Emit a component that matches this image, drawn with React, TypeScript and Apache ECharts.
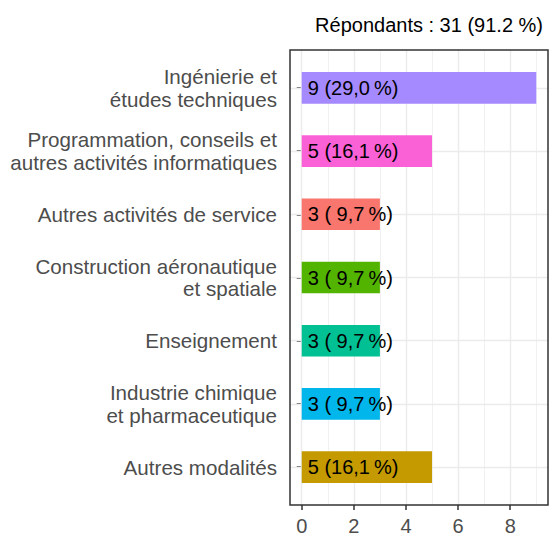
import React, { useEffect, useRef } from "react";
import * as echarts from "echarts";

const categories = [
  "Ingénierie et\nétudes techniques",
  "Programmation, conseils et\nautres activités informatiques",
  "Autres activités de service",
  "Construction aéronautique\net spatiale",
  "Enseignement",
  "Industrie chimique\net pharmaceutique",
  "Autres modalités",
];
const counts = [9, 5, 3, 3, 3, 3, 5];
const barColors = ["#A58AFF", "#FB61D7", "#F8766D", "#53B400", "#00C094", "#00B6EB", "#C49A00"];
const totalRespondents = 31;
const titleText = "Répondants : 31 (91.2 %)";
const xTicks = [0, 2, 4, 6, 8];
const xMinorLines = [1, 3, 5, 7, 9];

const FONT = "'Liberation Sans', Arial, Helvetica, sans-serif";

function pctLabel(v: number): string {
  const p = ((v / totalRespondents) * 100).toFixed(1).replace(".", ",");
  const padded = p.length < 4 ? " " + p : p;
  return `${v} (${padded}\u202F%)`;
}

export default function App() {
  const ref = useRef<HTMLDivElement>(null);
  useEffect(() => {
    if (!ref.current) return;
    const chart = echarts.init(ref.current, undefined, { renderer: "svg" });
    const xMin = -0.45;
    const xMax = 9.45;
    const yMin = 0.4;
    const yMax = categories.length + 0.6;
    const panelTop = 50;
    const panelBottom = 31;
    const panelH = 536 - panelTop - panelBottom;
    const unit = panelH / (yMax - yMin);
    const inset = (1 - yMin) * unit - unit / 2;

    const gridMajor = { color: "#EBEBEB", width: 1.4, type: "solid" };
    const gridMinor = { color: "#EBEBEB", width: 0.7, type: "solid" };
    const markData: any[] = [];
    xMinorLines.forEach((v) => markData.push({ xAxis: v, lineStyle: gridMinor }));
    xTicks.forEach((v) => markData.push({ xAxis: v, lineStyle: gridMajor }));
    categories.forEach((_, i) => markData.push({ yAxis: i + 1, lineStyle: gridMajor }));

    chart.setOption({
      animation: false,
      textStyle: { fontFamily: FONT },
      title: {
        text: titleText,
        right: 4,
        top: 10,
        textStyle: { fontSize: 20, fontWeight: "normal", color: "#000", fontFamily: FONT },
      },
      grid: [
        {
          left: 290,
          right: 4,
          top: panelTop,
          bottom: panelBottom,
          show: true,
          borderColor: "#333333",
          borderWidth: 1.5,
          backgroundColor: "transparent",
          z: 3,
        },
        {
          left: 290,
          right: 4,
          top: panelTop + inset,
          bottom: panelBottom + inset,
        },
      ],
      xAxis: [
        {
          gridIndex: 0,
          type: "value",
          min: xMin,
          max: xMax,
          axisLine: { show: false },
          splitLine: { show: false },
          axisTick: {
            show: true,
            customValues: xTicks,
            length: 5,
            lineStyle: { color: "#333333", width: 1.5 },
          },
          axisLabel: {
            customValues: xTicks,
            fontSize: 20,
            color: "#4D4D4D",
            margin: 11,
            fontFamily: FONT,
          },
        },
        {
          gridIndex: 1,
          type: "value",
          min: xMin,
          max: xMax,
          show: false,
        },
      ],
      yAxis: [
        {
          gridIndex: 0,
          type: "value",
          min: yMin,
          max: yMax,
          inverse: true,
          show: false,
        },
        {
          gridIndex: 1,
          type: "category",
          inverse: true,
          data: categories,
          axisLine: { show: false },
          splitLine: { show: false },
          axisTick: {
            show: true,
            alignWithLabel: true,
            length: 5,
            lineStyle: { color: "#333333", width: 1.5 },
          },
          axisLabel: {
            fontSize: 20.6,
            color: "#4D4D4D",
            margin: 13,
            lineHeight: 22.5,
            align: "right",
            fontFamily: FONT,
          },
        },
      ],
      series: [
        {
          type: "line",
          xAxisIndex: 0,
          yAxisIndex: 0,
          data: [],
          silent: true,
          z: 1,
          markLine: {
            silent: true,
            symbol: ["none", "none"],
            label: { show: false },
            z: 1,
            data: markData,
          },
        },
        {
          type: "bar",
          xAxisIndex: 1,
          yAxisIndex: 1,
          barWidth: "50%",
          z: 2,
          data: counts.map((v, i) => ({ value: v, itemStyle: { color: barColors[i] } })),
          label: {
            show: true,
            position: "insideLeft",
            distance: 6,
            fontSize: 20,
            color: "#000",
            fontFamily: FONT,
            formatter: (p: any) => pctLabel(p.value),
          },
        },
      ],
    });
    return () => chart.dispose();
  }, []);
  return (
    <div
      ref={ref}
      style={{ position: "fixed", left: 0, top: 0, width: 552, height: 536, background: "#fff" }}
    />
  );
}
